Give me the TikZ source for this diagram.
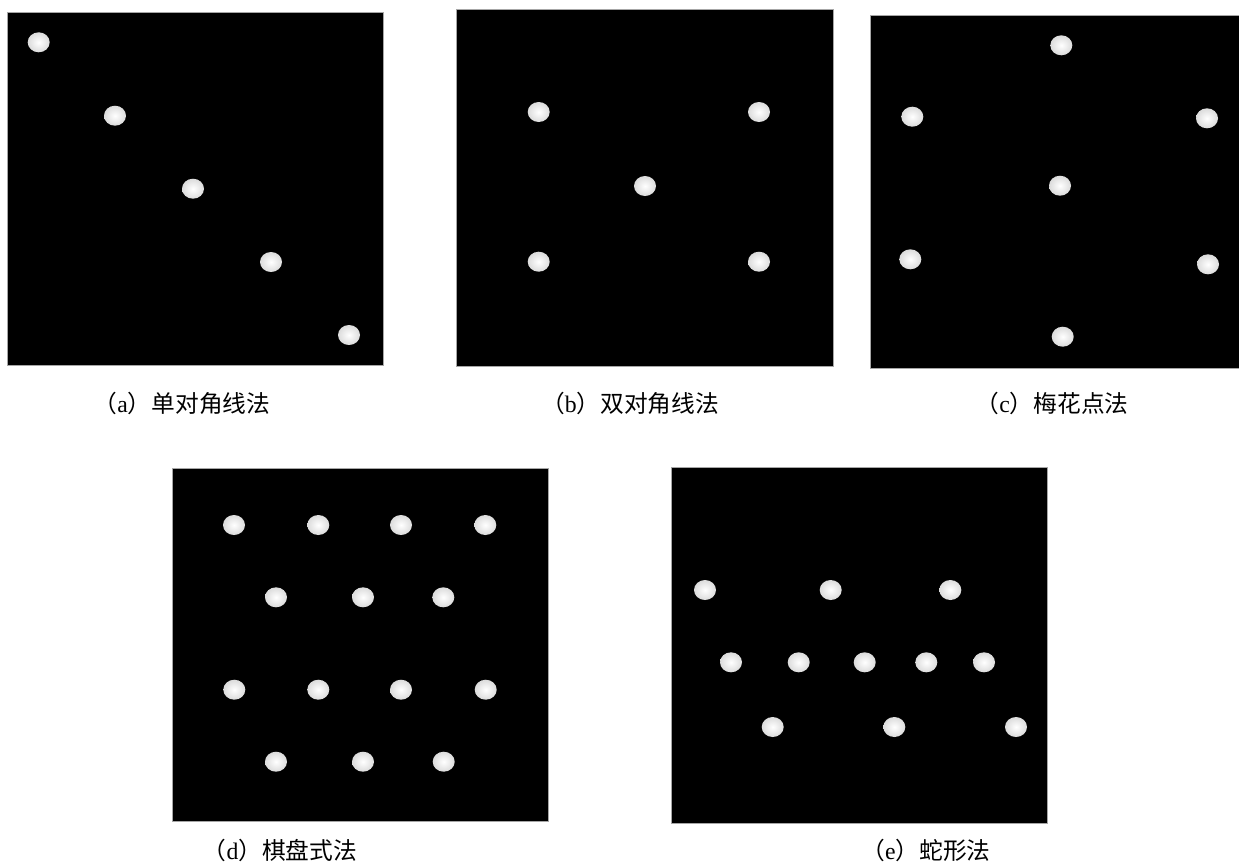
\documentclass[tikz,border=0pt]{standalone}
\usepackage{fontspec}
\setmainfont{Liberation Serif}
\newfontfamily\cjk{Noto Sans CJK SC}
\usetikzlibrary{shapes.geometric}
\tikzset{
  panel/.style={fill=black, draw=gray!70, line width=0.5pt},
  dot/.style={ellipse, inner sep=0pt, minimum width=0.44cm, minimum height=0.40cm,
    inner color=white, outer color=gray!28},
  caption/.style={inner sep=0pt, font=\fontsize{13.5}{15}\selectfont}
}
\begin{document}
\begin{tikzpicture}[x=0.02cm, y=-0.02cm]
\useasboundingbox (0,0) rectangle (1239,866);
% panels
\draw[panel] (7,12) rectangle (383,365);
\draw[panel] (456,9) rectangle (833,366);
\draw[panel] (870,15) rectangle (1240,368);
\draw[panel] (172,468) rectangle (548,821);
\draw[panel] (671,467) rectangle (1047,823);
% (a)
\node[dot] (a1) at (38.7,42.3) {};
\node[dot] (a2) at (115,115.7) {};
\node[dot] (a3) at (193,188.7) {};
\node[dot] (a4) at (271,262) {};
\node[dot] (a5) at (349,335) {};
% (b)
\node[dot] (b1) at (538.7,112) {};
\node[dot] (b2) at (759,112) {};
\node[dot] (b3) at (645,186) {};
\node[dot] (b4) at (538.7,261.7) {};
\node[dot] (b5) at (759,261.7) {};
% (c)
\node[dot] (c1) at (1061.3,45.3) {};
\node[dot] (c2) at (912.3,116.7) {};
\node[dot] (c3) at (1207,118.3) {};
\node[dot] (c4) at (1060,185.7) {};
\node[dot] (c5) at (910.3,259.3) {};
\node[dot] (c6) at (1208,264.3) {};
\node[dot] (c7) at (1062.7,336.7) {};
% (d)
\node[dot] (d1) at (234,525) {};
\node[dot] (d2) at (318.3,525) {};
\node[dot] (d3) at (401,525) {};
\node[dot] (d4) at (485.3,525) {};
\node[dot] (d5) at (276,597.3) {};
\node[dot] (d6) at (363,597.3) {};
\node[dot] (d7) at (443.3,597.3) {};
\node[dot] (d8) at (234.3,689.7) {};
\node[dot] (d9) at (318.3,689.7) {};
\node[dot] (d10) at (401,689.7) {};
\node[dot] (d11) at (485.7,689.7) {};
\node[dot] (d12) at (276,761.7) {};
\node[dot] (d13) at (363,761.7) {};
\node[dot] (d14) at (443.7,761.7) {};
% (e)
\node[dot] (e1) at (705,590) {};
\node[dot] (e2) at (830.7,590) {};
\node[dot] (e3) at (950.3,590) {};
\node[dot] (e4) at (731,662.3) {};
\node[dot] (e5) at (798.7,662.3) {};
\node[dot] (e6) at (864.7,662.3) {};
\node[dot] (e7) at (926.3,662.3) {};
\node[dot] (e8) at (984,662.3) {};
\node[dot] (e9) at (772.7,727) {};
\node[dot] (e10) at (894.3,727) {};
\node[dot] (e11) at (1016,727) {};
% captions
\node[caption] (la) at (182,403) {{\cjk （}a{\cjk ）单对角线法}};
\node[caption] (lb) at (630,403) {{\cjk （}b{\cjk ）双对角线法}};
\node[caption] (lc) at (1052,403) {{\cjk （}c{\cjk ）梅花点法}};
\node[caption] (ld) at (280,850) {{\cjk （}d{\cjk ）棋盘式法}};
\node[caption] (le) at (926,850) {{\cjk （}e{\cjk ）蛇形法}};
\end{tikzpicture}
\end{document}
